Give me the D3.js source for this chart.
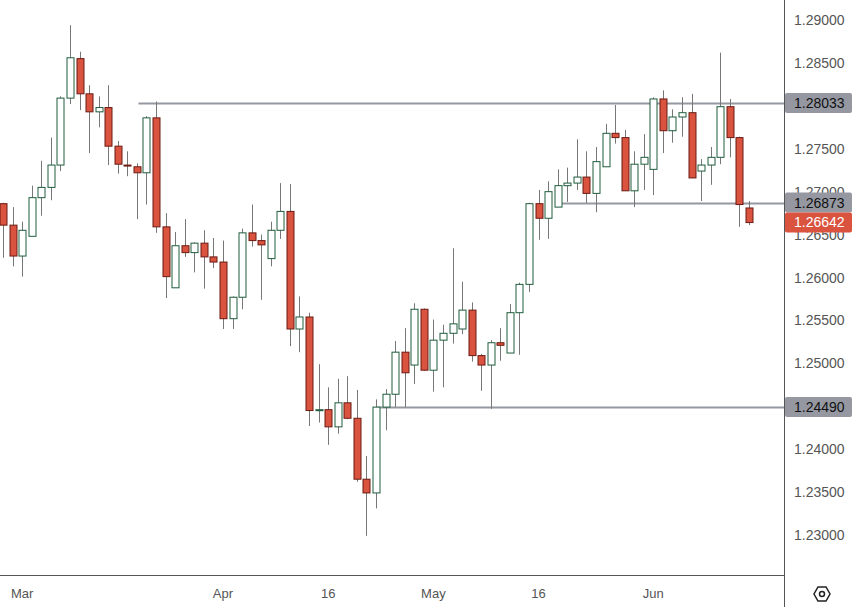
<!DOCTYPE html>
<html><head><meta charset="utf-8">
<script src="https://cdn.jsdelivr.net/npm/d3@7"></script>
<style>body{margin:0;background:#fff;}svg{display:block;font-family:"Liberation Sans",Arial,sans-serif;}</style>
</head><body><svg id="c" width="855" height="607"></svg>
<script>
const opens=[1.2686,1.2661,1.2625,1.2648,1.2693,1.2705,1.2731,1.2809,1.2855,1.2814,1.2793,1.2798,1.2753,1.2731,1.2729,1.2722,1.2786,1.2659,1.2588,1.2637,1.2629,1.2640,1.2624,1.2618,1.2552,1.2577,1.2652,1.2643,1.2622,1.2655,1.2677,1.2540,1.2554,1.2445,1.2446,1.2426,1.2454,1.2436,1.2365,1.2349,1.2449,1.2464,1.2513,1.2498,1.2563,1.2492,1.2527,1.2535,1.2540,1.2562,1.2509,1.2498,1.2524,1.2512,1.2559,1.2592,1.2686,1.2669,1.2682,1.2707,1.2710,1.2717,1.2698,1.2729,1.2768,1.2763,1.2701,1.2732,1.2726,1.2808,1.2771,1.2787,1.2792,1.2724,1.2731,1.2740,1.2799,1.2763,1.2681];
const closes=[1.2661,1.2625,1.2655,1.2693,1.2705,1.2731,1.2809,1.2856,1.2814,1.2793,1.2798,1.2753,1.2732,1.2730,1.2722,1.2786,1.2659,1.2601,1.2637,1.2629,1.2640,1.2624,1.2618,1.2552,1.2577,1.2652,1.2643,1.2638,1.2655,1.2677,1.2540,1.2554,1.2445,1.2446,1.2426,1.2454,1.2436,1.2365,1.2349,1.2449,1.2464,1.2513,1.2489,1.2563,1.2492,1.2527,1.2535,1.2546,1.2562,1.2509,1.2498,1.2524,1.2521,1.2559,1.2592,1.2686,1.2669,1.2700,1.2707,1.2710,1.2717,1.2698,1.2735,1.2768,1.2763,1.2701,1.2732,1.2740,1.2808,1.2771,1.2787,1.2792,1.2716,1.2731,1.2740,1.2799,1.2763,1.2685,1.2664];
const highs=[1.2687,1.2682,1.2665,1.2707,1.2736,1.2763,1.2811,1.2894,1.2863,1.2824,1.2811,1.2824,1.2759,1.2747,1.2733,1.2788,1.2805,1.2675,1.2653,1.2668,1.2641,1.2655,1.2646,1.2643,1.2578,1.2657,1.2685,1.2650,1.2665,1.2710,1.2709,1.2578,1.2559,1.2499,1.2472,1.2482,1.2485,1.2469,1.2392,1.2458,1.2470,1.2526,1.2541,1.2570,1.2564,1.2551,1.2545,1.2634,1.2595,1.2571,1.2511,1.2527,1.2541,1.2569,1.2594,1.2687,1.2702,1.2712,1.2726,1.2728,1.2761,1.2747,1.2752,1.2779,1.2801,1.2772,1.2747,1.2767,1.2810,1.2818,1.2796,1.2810,1.2814,1.2738,1.2752,1.2862,1.2808,1.2764,1.2689];
const lows=[1.2623,1.2613,1.2601,1.2648,1.2672,1.2690,1.2724,1.2802,1.2795,1.2745,1.2775,1.2731,1.2721,1.2718,1.2668,1.2685,1.2652,1.2576,1.2588,1.2624,1.2606,1.2587,1.2611,1.2540,1.2540,1.2563,1.2636,1.2574,1.2613,1.2645,1.2520,1.2513,1.2427,1.2431,1.2405,1.2418,1.2435,1.2362,1.2299,1.2331,1.2422,1.2449,1.2449,1.2476,1.2491,1.2467,1.2472,1.2523,1.2534,1.2502,1.2468,1.2447,1.2503,1.2512,1.2510,1.2583,1.2644,1.2645,1.2682,1.2688,1.2702,1.2687,1.2676,1.2729,1.2756,1.2701,1.2682,1.2702,1.2696,1.2745,1.2757,1.2764,1.2716,1.2689,1.2708,1.2732,1.2740,1.2659,1.2661];
const xTickIdx=[2,23,34,45,56,68];
const xTickLabels=["Mar","Apr","16","May","16","Jun"];
const yTicks=[1.29,1.285,1.28,1.275,1.27,1.265,1.26,1.255,1.25,1.245,1.24,1.235,1.23];
const levels=[1.28033,1.26873,1.24490];
const levelStartIdx=[15,59,40];
const lastPrice=1.26642;

const svg=d3.select("#c");
const x=d3.scaleLinear().domain([0,opens.length-1]).range([3,749]);
const y=d3.scaleLinear().domain([1.23,1.29]).range([535,20]);
const axisX=784, bottomY=575;
const g=svg.append("g");
// level lines
levels.forEach((v,i)=>{
  g.append("line").attr("x1",x(levelStartIdx[i])-8).attr("x2",axisX).attr("y1",Math.round(y(v))+.5).attr("y2",Math.round(y(v))+.5).attr("stroke","#9598a1").attr("stroke-width",2);
});
const up="#1e5c3c", down="#d9533f", downStroke="#6b1a13";
const cw=7;
opens.forEach((o,i)=>{
  const c=closes[i], isUp=c>=o, cx=Math.round(x(i))+.5;
  g.append("line").attr("x1",cx).attr("x2",cx).attr("y1",y(highs[i])).attr("y2",y(lows[i])).attr("stroke","#777").attr("stroke-width",1);
  const top=y(Math.max(o,c)), bot=y(Math.min(o,c));
  g.append("rect").attr("x",cx-cw/2).attr("y",top).attr("width",cw).attr("height",Math.max(1,bot-top))
    .attr("fill",isUp?"#fff":down).attr("stroke",isUp?up:downStroke).attr("stroke-width",1);
});
// axes lines
svg.append("line").attr("x1",axisX+.5).attr("x2",axisX+.5).attr("y1",0).attr("y2",607).attr("stroke","#555");
svg.append("line").attr("x1",0).attr("x2",axisX).attr("y1",bottomY+.5).attr("y2",bottomY+.5).attr("stroke","#555");
// y ticks
yTicks.forEach(v=>{
  svg.append("text").attr("x",794).attr("y",y(v)+5).attr("font-size",14).attr("fill","#555").text(d3.format(".5f")(v));
});
// x ticks
xTickIdx.forEach((idx,i)=>{
  svg.append("text").attr("x",x(idx)).attr("y",598).attr("text-anchor","middle").attr("font-size",13).attr("fill","#555").text(xTickLabels[i]);
});
// badges
function badge(v,fill,txt){
  const yy=y(v);
  svg.append("rect").attr("x",axisX+1).attr("y",yy-10).attr("width",67).attr("height",20).attr("rx",2).attr("fill",fill);
  svg.append("text").attr("x",axisX+10).attr("y",yy+5).attr("font-size",14).attr("fill",txt).text(d3.format(".5f")(v));
}
badge(levels[0],"#9598a1","#111");
badge(levels[2],"#9598a1","#111");
badge(levels[1],"#9598a1","#111");
badge(lastPrice,"#d9533f","#fff");
// settings icon
const ic=svg.append("g").attr("transform","translate(822,594)");
ic.append("path").attr("d","M-4,-7 L4,-7 L8,0 L4,7 L-4,7 L-8,0 Z").attr("fill","none").attr("stroke","#222").attr("stroke-width",1.5);
ic.append("circle").attr("r",2.5).attr("fill","none").attr("stroke","#222").attr("stroke-width",1.5);
</script></body></html>
